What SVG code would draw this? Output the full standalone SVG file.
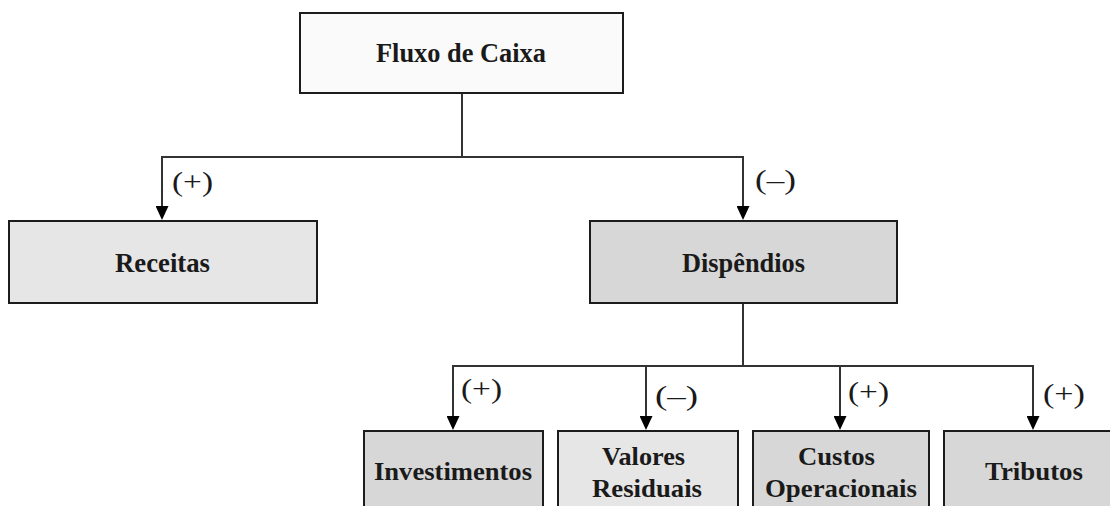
<svg xmlns="http://www.w3.org/2000/svg" width="1110" height="506" viewBox="0 0 1110 506">
<style>
.box{stroke:#1c1c1c;stroke-width:2}
.top{fill:#fafafa}
.light{fill:#e6e6e6}
.dark{fill:#d7d7d7}
.t{font-family:"Liberation Serif","Times New Roman",serif;font-weight:bold;fill:#1a1a1a}
.t1{font-size:27px}
.t2{font-size:26px}
.lbl{font-family:"Liberation Serif","Times New Roman",serif;font-size:27px;fill:#1a1a1a}
.c{fill:none;stroke:#333;stroke-width:2}
</style>
<defs>
<marker id="arr" viewBox="0 0 14 13" refX="0" refY="6.5" markerWidth="14" markerHeight="13" markerUnits="userSpaceOnUse" orient="auto">
<path d="M0,0 L14,6.5 L0,13 z" fill="#000"/>
</marker>
</defs>
<rect width="1110" height="506" fill="#fff"/>
<g id="connectors">
<path class="c" d="M462,93 V157"/>
<path class="c" d="M162,157 H743"/>
<path class="c" d="M162,156 V206" marker-end="url(#arr)"/>
<path class="c" d="M743,156 V206" marker-end="url(#arr)"/>
<path class="c" d="M743,303 V366"/>
<path class="c" d="M453,366 H1033"/>
<path class="c" d="M453,365 V416" marker-end="url(#arr)"/>
<path class="c" d="M646,365 V416" marker-end="url(#arr)"/>
<path class="c" d="M840,365 V416" marker-end="url(#arr)"/>
<path class="c" d="M1033,365 V416" marker-end="url(#arr)"/>
<text class="lbl" x="172" y="191" textLength="41" lengthAdjust="spacingAndGlyphs">(+)</text>
<text class="lbl" x="755" y="189" textLength="41" lengthAdjust="spacingAndGlyphs">(–)</text>
<text class="lbl" x="461" y="398" textLength="41" lengthAdjust="spacingAndGlyphs">(+)</text>
<text class="lbl" x="655" y="405" textLength="43" lengthAdjust="spacingAndGlyphs">(–)</text>
<text class="lbl" x="848" y="401" textLength="41" lengthAdjust="spacingAndGlyphs">(+)</text>
<text class="lbl" x="1043" y="403" textLength="42" lengthAdjust="spacingAndGlyphs">(+)</text>
</g>
<g id="fluxo">
<rect class="box top" x="300" y="13" width="323" height="80"/>
<text class="t t1" x="376" y="62" textLength="170" lengthAdjust="spacingAndGlyphs">Fluxo de Caixa</text>
</g>
<g id="receitas">
<rect class="box light" x="9" y="221" width="308" height="82"/>
<text class="t t1" x="115" y="272" textLength="95" lengthAdjust="spacingAndGlyphs">Receitas</text>
</g>
<g id="dispendios">
<rect class="box dark" x="590" y="221" width="307" height="82"/>
<text class="t t1" x="682" y="272" textLength="123" lengthAdjust="spacingAndGlyphs">Dispêndios</text>
</g>
<g id="investimentos">
<rect class="box dark" x="364" y="431" width="179" height="90"/>
<text class="t t2" x="374" y="480" textLength="158" lengthAdjust="spacingAndGlyphs">Investimentos</text>
</g>
<g id="valores">
<rect class="box light" x="558" y="431" width="180" height="90"/>
<text class="t t2" x="602" y="465" textLength="83" lengthAdjust="spacingAndGlyphs">Valores</text>
<text class="t t2" x="592" y="497" textLength="110" lengthAdjust="spacingAndGlyphs">Residuais</text>
</g>
<g id="custos">
<rect class="box dark" x="753" y="431" width="176" height="90"/>
<text class="t t2" x="798" y="465" textLength="77" lengthAdjust="spacingAndGlyphs">Custos</text>
<text class="t t2" x="765" y="497" textLength="152" lengthAdjust="spacingAndGlyphs">Operacionais</text>
</g>
<g id="tributos">
<rect class="box dark" x="944" y="431" width="178" height="90"/>
<text class="t t2" x="985" y="480" textLength="98" lengthAdjust="spacingAndGlyphs">Tributos</text>
</g>
</svg>
